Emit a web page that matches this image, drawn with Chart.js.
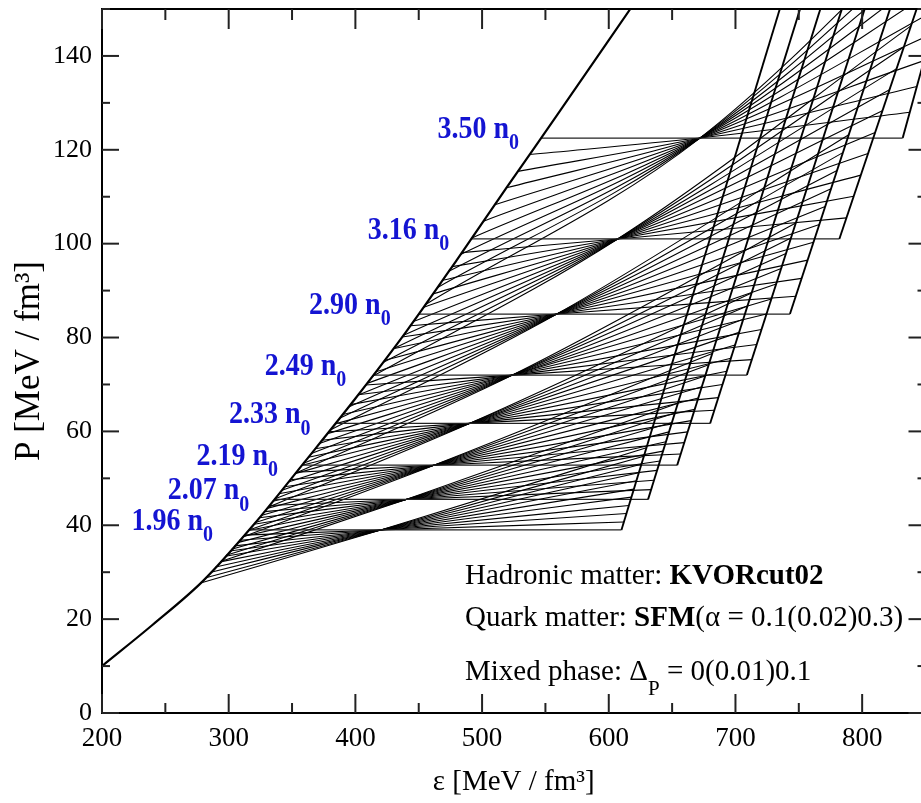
<!DOCTYPE html>
<html>
<head>
<meta charset="utf-8">
<script src="https://cdn.jsdelivr.net/npm/chart.js@4.4.1/dist/chart.umd.min.js"></script>
<style>
  html, body { margin: 0; padding: 0; background: #fff; overflow: hidden; }
  #wrap { width: 930px; height: 803px; }
</style>
</head>
<body>
<div id="wrap"><canvas id="eos" width="930" height="803"></canvas></div>
<script>
// hadronic branch (KVORcut02), read along the left edge of the bundle
const hadronEps = [200, 240, 280, 320, 360, 400, 440, 480, 520, 560, 617];
const hadronP   = [10, 18.8, 28.2, 40.2, 53.5, 67, 81.2, 96.5, 112.2, 127.7, 150];

// onset densities and their Maxwell plateaus (Delta_P = 0)
const onsetLabels = ['1.96', '2.07', '2.19', '2.33', '2.49', '2.90', '3.16', '3.50'];
const plateauP    = [39, 45.5, 52.8, 61.7, 72, 85, 101, 122.5];
const plateauEpsQ = [610, 631, 654, 680, 709, 743, 782, 832];
// quark branch where it reaches P = 150
const quarkTopEps = [735, 751, 767, 784, 802, 822, 843, 860];
// where the mixed-phase curves of one family cross their plateau
const pivotEps    = [420, 440, 462, 490, 524, 559, 607, 672];

// Delta_P = 0.01 ... 0.1: pressure where each mixed-phase curve leaves
// the hadronic branch and where it joins the quark branch
const leaveP = [
  [37.9, 36.8, 35.6, 34.5, 33.4, 32.2, 31.1, 30.0, 28.8, 27.7],
  [44.2, 42.9, 41.6, 40.2, 38.9, 37.6, 36.3, 34.9, 33.6, 32.3],
  [51.3, 49.7, 48.2, 46.7, 45.1, 43.6, 42.1, 40.6, 39.0, 37.5],
  [59.9, 58.1, 56.3, 54.5, 52.8, 51.0, 49.2, 47.4, 45.6, 43.8],
  [69.9, 67.8, 65.7, 63.6, 61.6, 59.5, 57.4, 55.3, 53.2, 51.1],
  [82.5, 80.1, 77.6, 75.1, 72.7, 70.2, 67.7, 65.2, 62.8, 60.3],
  [98.1, 95.1, 92.2, 89.3, 86.4, 83.4, 80.5, 77.6, 74.6, 71.7],
  [119.0, 115.4, 111.9, 108.3, 104.8, 101.2, 97.7, 94.1, 90.6, 87.0]
];
const joinP = [
  [40.7, 42.5, 44.2, 46.0, 47.7, 49.5, 51.2, 53.0, 54.7, 56.5],
  [47.6, 49.6, 51.7, 53.7, 55.8, 57.8, 59.9, 61.9, 63.9, 66.0],
  [55.2, 57.6, 59.9, 62.3, 64.7, 67.1, 69.5, 71.8, 74.2, 76.6],
  [64.5, 67.2, 70.0, 72.8, 75.6, 78.4, 81.1, 83.9, 86.7, 89.5],
  [75.3, 78.5, 81.7, 85.0, 88.2, 91.4, 94.7, 97.9, 101.2, 104.4],
  [88.8, 92.6, 96.5, 100.3, 104.1, 107.9, 111.7, 115.6, 119.4, 123.2],
  [105.5, 110.1, 114.6, 119.2, 123.7, 128.3, 132.8, 137.3, 141.9, 146.4],
  [128.0, 133.5, 139.0, 144.6, 150.1, 155.6, 161.1, 166.6, 172.1, 177.6]
];

const xTicks = [200, 300, 400, 500, 600, 700, 800];
const xMinor = [250, 350, 450, 550, 650, 750, 850];
const yTicks = [0, 20, 40, 60, 80, 100, 120, 140];
const yMinor = [10, 30, 50, 70, 90, 110, 130, 150];

const SERIF = '"Liberation Serif", "Times New Roman", serif';
// pixel gap between each onset label and its plateau
const labelGap = [36, 25, 24, 25, 27, 28, 22, 22];

// energy density on the hadronic branch for a given pressure
function epsOnHadron(p) {
  for (let i = 1; i < hadronP.length; i++) {
    if (p <= hadronP[i]) {
      const t = (p - hadronP[i - 1]) / (hadronP[i] - hadronP[i - 1]);
      return hadronEps[i - 1] + t * (hadronEps[i] - hadronEps[i - 1]);
    }
  }
  return hadronEps[hadronEps.length - 1];
}
// energy density on the quark branch k for a given pressure
function epsOnQuark(k, p) {
  const t = (p - plateauP[k]) / (150 - plateauP[k]);
  return plateauEpsQ[k] + t * (quarkTopEps[k] - plateauEpsQ[k]);
}

const datasets = [];
datasets.push({
  data: hadronEps.map((e, i) => ({ x: e, y: hadronP[i] })),
  borderWidth: 2.2,
  cubicInterpolationMode: 'monotone'
});
plateauP.forEach((pc, k) => {
  // Maxwell plateau
  datasets.push({
    data: [{ x: epsOnHadron(pc), y: pc }, { x: plateauEpsQ[k], y: pc }],
    borderWidth: 1.3,
    borderColor: '#222'
  });
  // quark branch
  datasets.push({
    data: [{ x: plateauEpsQ[k], y: pc }, { x: quarkTopEps[k], y: 150 }],
    borderWidth: 1.9
  });
  leaveP[k].forEach((pl, j) => {
    const pj = joinP[k][j];
    datasets.push({
      data: [{ x: epsOnHadron(pl), y: pl }, { x: pivotEps[k], y: pc }, { x: epsOnQuark(k, pj), y: pj }],
      borderWidth: 1.1,
      cubicInterpolationMode: 'monotone'
    });
  });
});

// text runs drawn one after another on a baseline
function drawRuns(ctx, x, y, runs) {
  runs.forEach(r => {
    ctx.font = r.f;
    ctx.fillText(r.t, x, y + (r.dy || 0));
    x += ctx.measureText(r.t).width;
  });
}

const decor = {
  id: 'decor',
  afterDatasetsDraw(chart) {
    const { ctx, chartArea: a, scales: { x, y } } = chart;
    ctx.save();
    ctx.strokeStyle = '#000';
    ctx.lineWidth = 2;
    ctx.strokeRect(a.left, a.top, a.right - a.left, a.bottom - a.top);

    ctx.strokeStyle = '#222';
    const tick = (x1, y1, x2, y2) => { ctx.beginPath(); ctx.moveTo(x1, y1); ctx.lineTo(x2, y2); ctx.stroke(); };
    xTicks.forEach(v => { const px = x.getPixelForValue(v); tick(px, a.bottom, px, a.bottom - 19); tick(px, a.top, px, a.top + 20); });
    xMinor.forEach(v => { const px = x.getPixelForValue(v); tick(px, a.bottom, px, a.bottom - 10); tick(px, a.top, px, a.top + 11); });
    yTicks.forEach(v => { const py = y.getPixelForValue(v); tick(a.left, py, a.left + 17, py); tick(a.right, py, a.right - 17, py); });
    yMinor.forEach(v => { const py = y.getPixelForValue(v); tick(a.left, py, a.left + 8, py); tick(a.right, py, a.right - 8, py); });

    // onset density labels, left of each plateau
    ctx.fillStyle = '#1414d2';
    ctx.textBaseline = 'alphabetic';
    ctx.textAlign = 'left';
    onsetLabels.forEach((lab, k) => {
      const main = lab + ' n';
      ctx.font = 'bold 20px ' + SERIF;
      const subW = ctx.measureText('0').width;
      ctx.font = 'bold 28px ' + SERIF;
      const mainW = ctx.measureText(main).width;
      const right = x.getPixelForValue(epsOnHadron(plateauP[k])) - labelGap[k];
      const base = y.getPixelForValue(plateauP[k]);
      ctx.save();
      ctx.translate(right - subW - mainW, base);
      ctx.scale(1, 1.12);
      drawRuns(ctx, 0, 0, [
        { t: main, f: 'bold 28px ' + SERIF },
        { t: '0', f: 'bold 20px ' + SERIF, dy: 10 }
      ]);
      ctx.restore();
    });

    // model description
    ctx.fillStyle = '#000';
    const reg = '29px ' + SERIF, bold = 'bold 29px ' + SERIF;
    drawRuns(ctx, 465, 584, [{ t: 'Hadronic matter: ', f: reg }, { t: 'KVORcut02', f: bold }]);
    drawRuns(ctx, 465, 626, [{ t: 'Quark matter: ', f: reg }, { t: 'SFM', f: bold }, { t: '(α = 0.1(0.02)0.3)', f: reg }]);
    drawRuns(ctx, 465, 680, [{ t: 'Mixed phase: Δ', f: reg }, { t: 'P', f: '21px ' + SERIF, dy: 15 }, { t: ' = 0(0.01)0.1', f: reg }]);
    ctx.restore();
  }
};

new Chart(document.getElementById('eos'), {
  type: 'scatter',
  data: { datasets },
  options: {
    responsive: false,
    animation: false,
    devicePixelRatio: 1,
    layout: { padding: { top: 9, right: 4.5, bottom: 0, left: 0 } },
    datasets: {
      scatter: { showLine: true, borderColor: '#000', pointRadius: 0, fill: false, tension: 0 }
    },
    plugins: { legend: { display: false }, tooltip: { enabled: false } },
    scales: {
      x: {
        type: 'linear', min: 200, max: 850,
        afterBuildTicks: s => { s.ticks = xTicks.map(v => ({ value: v })); },
        afterFit: s => { s.height = 90; s.paddingLeft = 0; s.paddingRight = 0; },
        grid: { display: false, drawTicks: false },
        border: { display: false },
        ticks: { color: '#000', font: { family: SERIF, size: 27 }, padding: 10, maxRotation: 0, autoSkip: false },
        title: { display: true, text: 'ε [MeV / fm³]', color: '#000', font: { family: SERIF, size: 29 }, padding: { top: 0, bottom: 3 } }
      },
      y: {
        type: 'linear', min: 0, max: 150,
        afterBuildTicks: s => { s.ticks = yTicks.map(v => ({ value: v })); },
        afterFit: s => { s.width = 102; s.paddingTop = 0; s.paddingBottom = 0; },
        grid: { display: false, drawTicks: false },
        border: { display: false },
        ticks: { color: '#000', font: { family: SERIF, size: 26 }, padding: 10, autoSkip: false },
        title: { display: true, text: 'P [MeV / fm³]', color: '#000', font: { family: SERIF, size: 35 }, padding: { top: 9, bottom: 0 } }
      }
    }
  },
  plugins: [decor]
});
</script>
</body>
</html>
